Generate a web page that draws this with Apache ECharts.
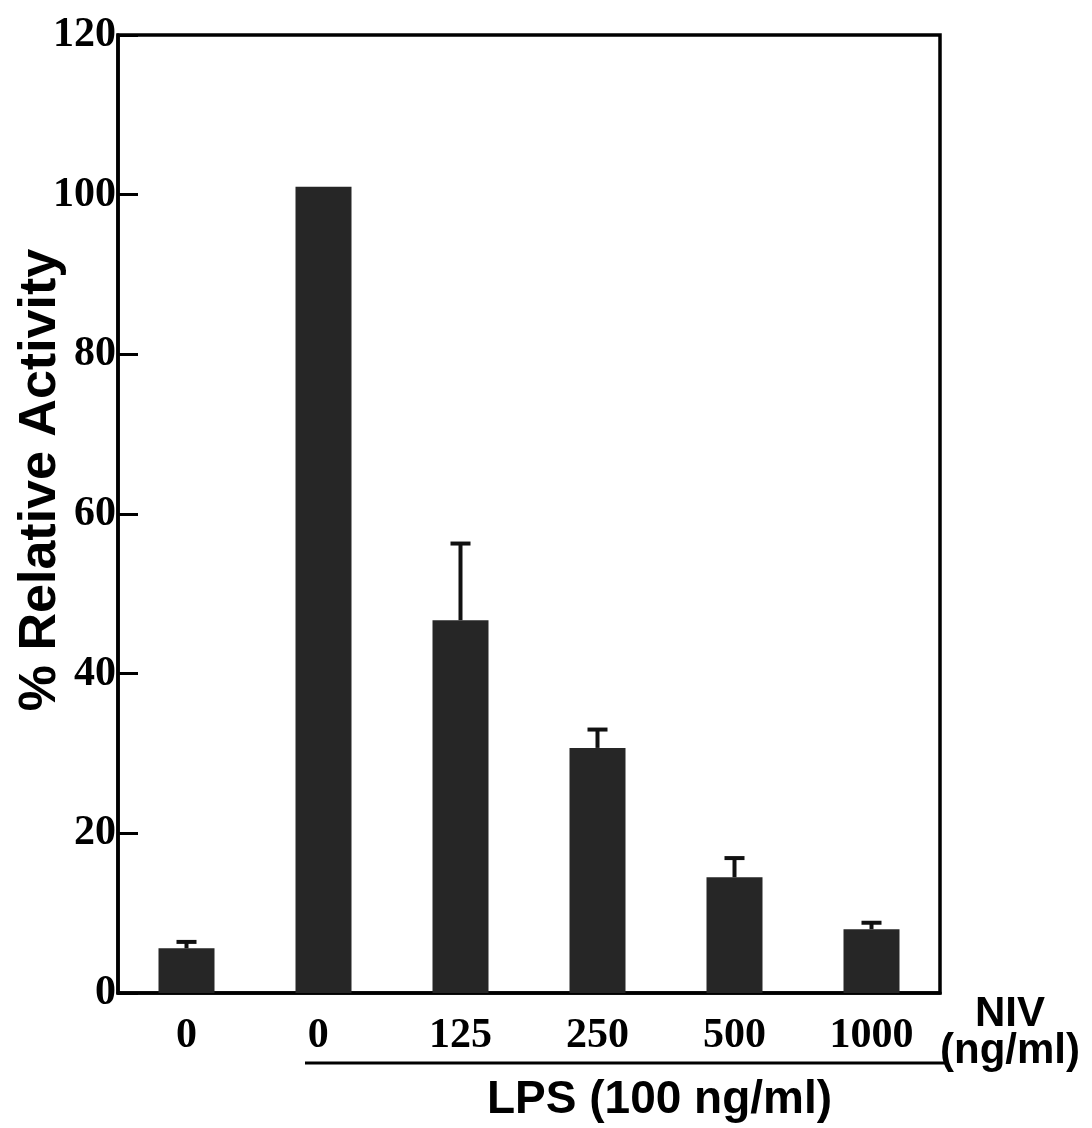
<!DOCTYPE html>
<html>
<head>
<meta charset="utf-8">
<script src="https://cdn.jsdelivr.net/npm/echarts@6/dist/echarts.min.js"></script>
<style>html,body{margin:0;padding:0;background:#fff;}#c{width:1092px;height:1128px;}</style>
</head>
<body>
<div id="c"></div>
<script>
const categories = ['0', '0 ', '125', '250', '500', '1000'];
const means = [5.6, 101.0, 46.7, 30.7, 14.5, 8.0];
const errors = [0.8, 0, 9.6, 2.3, 2.4, 0.8];
const yTicks = [0, 20, 40, 60, 80, 100, 120];
const yTitle = '% Relative Activity';

const chart = echarts.init(document.getElementById('c'));
const serif = '"Liberation Serif", "Times New Roman", serif';
const sans = '"Liberation Sans", Arial, sans-serif';

chart.setOption({
  backgroundColor: '#ffffff',
  animation: false,
  grid: { left: 118, right: 152, top: 35, bottom: 135, containLabel: false, outerBoundsMode: 'none',
    show: true, borderColor: '#000', borderWidth: 3.5, backgroundColor: 'transparent' },
  xAxis: {
    type: 'category', data: categories,
    axisLine: { lineStyle: { color: '#000', width: 3.5 } },
    axisTick: { show: false },
    axisLabel: { color: '#000', fontFamily: serif, fontWeight: 'bold', fontSize: 42, margin: 22 }
  },
  yAxis: {
    type: 'value', min: 0, max: 120, interval: 20,
    splitLine: { show: false },
    axisLine: { show: true, lineStyle: { color: '#000', width: 3.5 } },
    axisTick: { show: true, inside: true, length: 20, lineStyle: { color: '#000', width: 3 } },
    axisLabel: { color: '#000', fontFamily: serif, fontWeight: 'bold', fontSize: 42, margin: 2,
      formatter: v => yTicks.includes(v) ? String(v) : '' }
  },
  series: [
    {
      type: 'bar', data: means, barWidth: 56,
      itemStyle: { color: '#262626' }
    },
    {
      type: 'custom',
      data: means.map((m, i) => [i, m, m + errors[i]]),
      renderItem: function (params, api) {
        const i = api.value(0);
        const top = api.coord([i, api.value(2)]);
        const base = api.coord([i, api.value(1)]);
        if (api.value(2) - api.value(1) <= 0) return { type: 'group', children: [] };
        return {
          type: 'group',
          children: [
            { type: 'line', shape: { x1: top[0], y1: base[1], x2: top[0], y2: top[1] }, style: { stroke: '#111', lineWidth: 4 } },
            { type: 'line', shape: { x1: top[0] - 10, y1: top[1], x2: top[0] + 10, y2: top[1] }, style: { stroke: '#111', lineWidth: 4 } }
          ]
        };
      },
      z: 3
    }
  ],
  graphic: [
    { type: 'text', x: 41, y: 480, rotation: Math.PI / 2,
      style: { text: yTitle, font: 'bold 52px ' + sans, fill: '#000', textAlign: 'center', textVerticalAlign: 'middle' } },
    { type: 'line', shape: { x1: 305, y1: 1063, x2: 945, y2: 1063 }, style: { stroke: '#000', lineWidth: 3 } },
    { type: 'text', left: 487, top: 1077, style: { text: 'LPS (100 ng/ml)', font: 'bold 46px ' + sans, fill: '#000' } },
    { type: 'text', left: 975, top: 993, style: { text: 'NIV', font: 'bold 42px ' + sans, fill: '#000' } },
    { type: 'text', left: 940, top: 1030, style: { text: '(ng/ml)', font: 'bold 42px ' + sans, fill: '#000' } }
  ]
});
</script>
</body>
</html>
